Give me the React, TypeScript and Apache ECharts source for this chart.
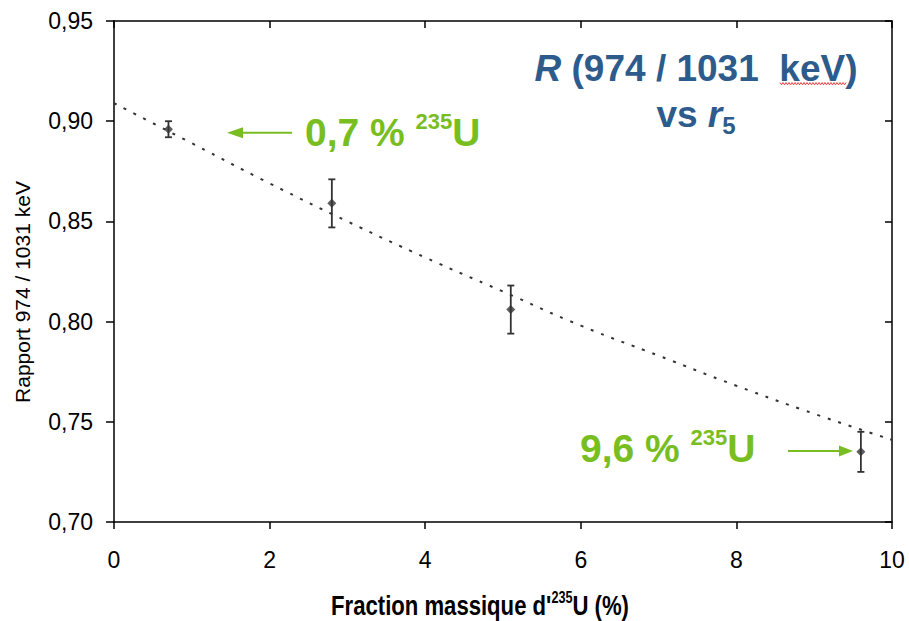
import React, { useEffect, useRef } from 'react';
import * as echarts from 'echarts';

// ---- data ----
const enrichment = [0.7, 2.8, 5.1, 9.6];            // Fraction massique d'235U (%)
const ratio = [0.896, 0.859, 0.806, 0.735];          // Rapport 974 / 1031 keV
const ratioErr = [0.004, 0.012, 0.012, 0.010];       // half error bars
const trendX = [0, 1, 2, 3, 4, 5, 6, 7, 8, 9, 10];
const trendY = [0.909, 0.889, 0.869, 0.850, 0.832, 0.815, 0.798, 0.783, 0.768, 0.754, 0.741];
const xRange = [0, 10, 2];        // min, max, interval
const yRange = [0.7, 0.95, 0.05]; // min, max, interval

const FONT = "'Liberation Sans', Arial, Helvetica, sans-serif";
const GREEN = '#78BE21';
const BLUE = '#2C5B8C';
const DARK = '#333333';
const AXIS = '#000000';

export default function App() {
  const ref = useRef<HTMLDivElement>(null);

  useEffect(() => {
    document.body.style.margin = '0';
    document.body.style.overflow = 'hidden';
    if (!ref.current) return;
    const chart = echarts.init(ref.current, undefined, { renderer: 'svg' });

    const wave: number[][] = [];
    for (let i = 0; i <= 44; i++) {
      wave.push([780 + i * 1.5, i % 2 === 0 ? 82.5 : 84.8]);
    }

    const axisLineStyle = { color: AXIS, width: 1.5 };
    const baseX = {
      type: 'value' as const,
      min: xRange[0], max: xRange[1], interval: xRange[2],
      splitLine: { show: false },
    };
    const baseY = {
      type: 'value' as const,
      min: yRange[0], max: yRange[1], interval: yRange[2],
      splitLine: { show: false },
    };

    const greenRich = {
      m: { fill: GREEN, fontFamily: FONT, fontSize: 39, fontWeight: 'bold', lineHeight: 44 },
      s: { fill: GREEN, fontFamily: FONT, fontSize: 22, fontWeight: 'bold', lineHeight: 32, verticalAlign: 'top', textVerticalAlign: 'top' },
    };

    chart.setOption({
      animation: false,
      backgroundColor: '#ffffff',
      grid: { left: 114, right: 17, top: 21, bottom: 99 },
      xAxis: [
        {
          ...baseX,
          position: 'bottom',
          axisLine: { show: true, onZero: false, lineStyle: axisLineStyle },
          axisTick: { show: true, inside: false, length: 7, lineStyle: { color: AXIS, width: 1.5 } },
          axisLabel: { margin: 26, fontSize: 23, color: '#000', fontFamily: FONT },
        },
        {
          ...baseX,
          position: 'top',
          axisLine: { show: true, onZero: false, lineStyle: axisLineStyle },
          axisTick: { show: true, inside: true, length: 7, lineStyle: { color: AXIS, width: 1.5 } },
          axisLabel: { show: false },
        },
      ],
      yAxis: [
        {
          ...baseY,
          position: 'left',
          axisLine: { show: true, onZero: false, lineStyle: axisLineStyle },
          axisTick: { show: true, inside: false, length: 8, lineStyle: { color: AXIS, width: 1.5 } },
          axisLabel: {
            margin: 21, fontSize: 23, color: '#000', fontFamily: FONT,
            formatter: (v: number) => v.toFixed(2).replace('.', ','),
          },
        },
        {
          ...baseY,
          position: 'right',
          axisLine: { show: true, onZero: false, lineStyle: axisLineStyle },
          axisTick: { show: true, inside: true, length: 7, lineStyle: { color: AXIS, width: 1.5 } },
          axisLabel: { show: false },
        },
      ],
      series: [
        {
          type: 'line',
          xAxisIndex: 0, yAxisIndex: 0,
          data: trendX.map((x, i) => [x, trendY[i]]),
          symbol: 'none',
          smooth: true,
          lineStyle: { color: DARK, width: 2, type: [3, 8] },
          z: 1,
        },
        {
          type: 'custom',
          xAxisIndex: 0, yAxisIndex: 0,
          data: enrichment.map((x, i) => [x, ratio[i], ratioErr[i]]),
          encode: { x: 0, y: 1 },
          renderItem: (params: any, api: any) => {
            const x = api.value(0);
            const y = api.value(1);
            const e = api.value(2);
            const top = api.coord([x, y + e]);
            const bot = api.coord([x, y - e]);
            const hw = 3.5;
            const st = { stroke: DARK, lineWidth: 1.8 };
            return {
              type: 'group',
              children: [
                { type: 'line', shape: { x1: top[0], y1: top[1], x2: bot[0], y2: bot[1] }, style: st },
                { type: 'line', shape: { x1: top[0] - hw, y1: top[1], x2: top[0] + hw, y2: top[1] }, style: st },
                { type: 'line', shape: { x1: bot[0] - hw, y1: bot[1], x2: bot[0] + hw, y2: bot[1] }, style: st },
              ],
            };
          },
          z: 2,
        },
        {
          type: 'scatter',
          xAxisIndex: 0, yAxisIndex: 0,
          data: enrichment.map((x, i) => [x, ratio[i]]),
          symbol: 'diamond',
          symbolSize: 9,
          itemStyle: { color: DARK },
          z: 3,
        },
      ],
      graphic: [
        // Title
        {
          type: 'text',
          x: 696, y: 45,
          style: {
            text: '{ri|R}{b| (974 / 1031  keV)}\n{b|vs }{ri|r}{sub|5}',
            align: 'center', textAlign: 'center',
            verticalAlign: 'top', textVerticalAlign: 'top',
            fill: BLUE,
            fontFamily: FONT, fontSize: 37, fontWeight: 'bold',
            rich: {
              b: { fill: BLUE, fontFamily: FONT, fontSize: 37, fontWeight: 'bold', lineHeight: 46 },
              ri: { fill: BLUE, fontFamily: FONT, fontSize: 37, fontWeight: 'bold', fontStyle: 'italic', lineHeight: 46 },
              sub: { fill: BLUE, fontFamily: FONT, fontSize: 24, fontWeight: 'bold', lineHeight: 24, verticalAlign: 'bottom', textVerticalAlign: 'bottom' },
            },
          },
        },
        // red spell-check underline under keV
        {
          type: 'polyline',
          shape: { points: wave },
          style: { stroke: '#E23B3B', lineWidth: 1, fill: 'none' },
        },
        // 0,7 % 235U label
        {
          type: 'text',
          x: 305, y: 110.5,
          style: {
            text: '{m|0,7 % }{s|235}{m|U}',
            align: 'left', textAlign: 'left',
            verticalAlign: 'top', textVerticalAlign: 'top',
            fill: GREEN, fontFamily: FONT, fontSize: 39, fontWeight: 'bold',
            rich: greenRich,
          },
        },
        { type: 'line', shape: { x1: 292, y1: 132.7, x2: 240, y2: 132.7 }, style: { stroke: GREEN, lineWidth: 2 } },
        { type: 'polygon', shape: { points: [[227, 132.7], [243, 127.2], [243, 138.2]] }, style: { fill: GREEN } },
        // 9,6 % 235U label
        {
          type: 'text',
          x: 580, y: 426.5,
          style: {
            text: '{m|9,6 % }{s|235}{m|U}',
            align: 'left', textAlign: 'left',
            verticalAlign: 'top', textVerticalAlign: 'top',
            fill: GREEN, fontFamily: FONT, fontSize: 39, fontWeight: 'bold',
            rich: greenRich,
          },
        },
        { type: 'line', shape: { x1: 788, y1: 451, x2: 842, y2: 451 }, style: { stroke: GREEN, lineWidth: 2 } },
        { type: 'polygon', shape: { points: [[853, 451], [839, 445.5], [839, 456.5]] }, style: { fill: GREEN } },
        // Y axis name
        {
          type: 'text',
          x: 22, y: 292,
          rotation: Math.PI / 2,
          style: {
            text: 'Rapport 974 / 1031 keV',
            align: 'center', textAlign: 'center',
            verticalAlign: 'middle', textVerticalAlign: 'middle',
            fill: '#000', fontFamily: FONT, fontSize: 21,
          },
        },
        // X axis name (condensed bold)
        {
          type: 'text',
          x: 480, y: 589.3,
          scaleX: 0.79,
          style: {
            text: "{m|Fraction massique d'}{s|235}{m|U (%)}",
            align: 'center', textAlign: 'center',
            verticalAlign: 'top', textVerticalAlign: 'top',
            fill: '#000', fontFamily: FONT, fontSize: 28, fontWeight: 'bold',
            rich: {
              m: { fill: '#000', fontFamily: FONT, fontSize: 28, fontWeight: 'bold', lineHeight: 32 },
              s: { fill: '#000', fontFamily: FONT, fontSize: 16, fontWeight: 'bold', lineHeight: 24, verticalAlign: 'top', textVerticalAlign: 'top' },
            },
          },
        },
      ],
    });

    return () => chart.dispose();
  }, []);

  return <div ref={ref} style={{ width: 909, height: 621 }} />;
}
